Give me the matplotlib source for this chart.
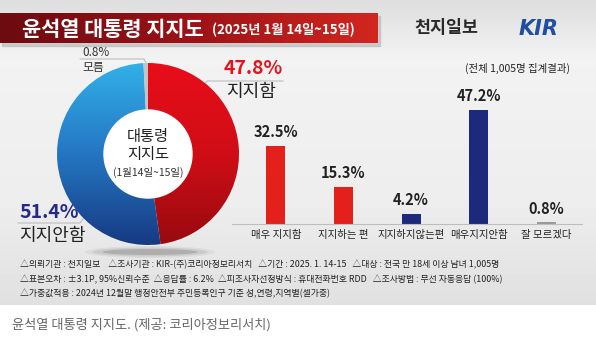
import numpy as np
import matplotlib
matplotlib.use("Agg")
import matplotlib.pyplot as plt
from matplotlib.colors import LinearSegmentedColormap
from matplotlib.patches import Ellipse, Rectangle

plt.rcParams['font.family'] = ['Noto Sans CJK KR', 'DejaVu Sans']

# donut: overall approval
donut_labels = ['지지함', '지지안함', '모름']
donut_values = [47.8, 51.4, 0.8]

# bars: detailed answers
bar_labels = ['매우 지지함', '지지하는 편', '지지하지않는편', '매우지지안함', '잘 모르겠다']
bar_values = [32.5, 15.3, 4.2, 47.2, 0.8]
bar_colors = ['#e3201b', '#e3201b', '#1d2a7c', '#1d2a7c', '#9a9a9a']

notes = [
    '△의뢰기관 : 천지일보    △조사기관 : KIR-(주)코리아정보리서치   △기간 : 2025. 1. 14-15   △대상 : 전국 만 18세 이상 남녀 1,005명',
    '△표본오차 : ±3.1P, 95%신뢰수준  △응답률 : 6.2%  △피조사자선정방식 : 휴대전화번호 RDD   △조사방법 : 무선 자동응답 (100%)',
    '△가중값적용 : 2024년 12월말 행정안전부 주민등록인구 기준 성,연령,지역별(셀가중)',
]

W, H = 596, 341
fig = plt.figure(figsize=(W / 100, H / 100), dpi=100)
fig.patch.set_facecolor('white')

# full-figure canvas in pixel units
ax = fig.add_axes([0, 0, 1, 1])
ax.set_xlim(0, W)
ax.set_ylim(H, 0)
ax.axis('off')

# grey backdrop
bg = np.concatenate([np.linspace(0.87, 0.95, 60), np.linspace(0.95, 0.93, 140), np.linspace(0.93, 0.88, 105)])
ax.imshow(bg[:, None], extent=(0, W, 305, 0), cmap='gray', vmin=0, vmax=1, aspect='auto', zorder=0)

# title banner
ax.add_patch(Rectangle((2, 16), 378, 30, color='#b5b5b5', alpha=0.6, zorder=1))
banner = LinearSegmentedColormap.from_list('banner', ['#6c0b10', '#9c1217', '#d2261f'])
ax.imshow(np.linspace(0, 1, 200)[None, :], extent=(0, 378, 43, 13), cmap=banner, aspect='auto', zorder=2)
ax.text(22, 29, '윤석열 대통령 지지도', color='white', fontsize=15, fontweight='bold', va='center', zorder=3)
ax.text(212, 30, '(2025년 1월 14일~15일)', color='white', fontsize=9.5, fontweight='bold', va='center', zorder=3)

ax.text(414, 28, '천지일보', color='#2a2a2a', fontsize=12.5, fontweight='bold', va='center')
ax.text(519, 29, 'KIR', color='#1f4f9e', fontsize=15, fontweight='heavy', style='italic',
        va='center', family='DejaVu Sans')

ax.text(465, 68, '(전체 1,005명 집계결과)', color='#222222', fontsize=7.5, va='center')

# donut shadow
for w, h, a in [(130, 12, 0.06), (115, 9, 0.1), (95, 6, 0.18)]:
    ax.add_patch(Ellipse((150, 252), w, h, color='#303030', alpha=a, lw=0, zorder=1))

# donut labels
ax.text(82, 52, '0.8%', color='#333333', fontsize=8.5, va='center')
ax.plot([80, 144, 146], [59, 59, 63], color='#bdbdbd', lw=0.8)
ax.text(82, 68, '모름', color='#333333', fontsize=8.5, va='center')

ax.text(224, 69, '47.8%', color='#e4141c', fontsize=14, fontweight='bold', va='center')
ax.plot([197, 207, 283], [93, 81, 81], color='#bdbdbd', lw=0.8)
ax.text(226, 92, '지지함', color='#222222', fontsize=13, va='center')

ax.text(19, 212, '51.4%', color='#27288a', fontsize=14, fontweight='bold', va='center')
ax.plot([18, 80, 87], [223, 223, 214], color='#bdbdbd', lw=0.8)
ax.text(19, 236, '지지안함', color='#222222', fontsize=13, va='center')

# footnotes and caption
for i, line in enumerate(notes):
    ax.text(20, 265 + 14.5 * i, line, color='#222222', fontsize=6.4, va='center')
ax.text(12, 325, '윤석열 대통령 지지도. (제공: 코리아정보리서치)', color='#666666', fontsize=9.5, va='center')

# donut chart
cx, cy, R = 148, 154, 91
dax = fig.add_axes([(cx - 100) / W, (H - cy - 100) / H, 200 / W, 200 / H])
dax.axis('off')
wedges, _ = dax.pie(donut_values, radius=R, startangle=90, counterclock=False,
                    wedgeprops=dict(width=R - 44, linewidth=0))
dax.set_xlim(-100, 100)
dax.set_ylim(-100, 100)
grads = [
    LinearSegmentedColormap.from_list('r', ['#970a0f', '#d00d16', '#e80e1a']),
    LinearSegmentedColormap.from_list('b', ['#163a82', '#2576c2', '#31b0e8']),
    LinearSegmentedColormap.from_list('g', ['#c4c4c4', '#c4c4c4']),
]
ramp = np.linspace(1, 0, 200)[:, None]
for wdg, cm in zip(wedges, grads):
    wdg.set_facecolor('none')
    im = dax.imshow(ramp, extent=(-R, R, -R, R), cmap=cm, vmin=0, vmax=1, aspect='auto', zorder=1)
    im.set_clip_path(wdg)
dax.add_patch(Ellipse((0, 0), 88, 88, color='white', zorder=2))
dax.text(0, 17, '대통령', ha='center', va='center', fontsize=11, color='#222222', zorder=3)
dax.text(0, 0, '지지도', ha='center', va='center', fontsize=11, color='#222222', zorder=3)
dax.text(0, -18, '(1월14일~15일)', ha='center', va='center', fontsize=7.5, color='#333333', zorder=3)
dax.set_aspect('equal')

# bar chart
base = 224
bax = fig.add_axes([232 / W, (H - base) / H, 350 / W, 120.75 / H])
bax.set_facecolor('none')
x = np.arange(len(bar_values))
bars = bax.bar(x, bar_values, width=0.28, color=bar_colors)
bax.set_xlim(-0.65, 4.53)
bax.set_ylim(0, 50)
bax.bar_label(bars, labels=[f'{v}%' for v in bar_values], padding=4,
              fontsize=10.5, fontweight='bold', color='#222222')
bax.set_xticks(x)
bax.set_xticklabels(bar_labels, fontsize=7.5, color='#222222')
bax.tick_params(axis='x', length=0, pad=4)
bax.set_yticks([])
for s in ['top', 'right', 'left']:
    bax.spines[s].set_visible(False)
bax.spines['bottom'].set_color('#bdbdbd')
bax.spines['bottom'].set_linewidth(0.8)

fig.savefig('out.png', dpi=100)
